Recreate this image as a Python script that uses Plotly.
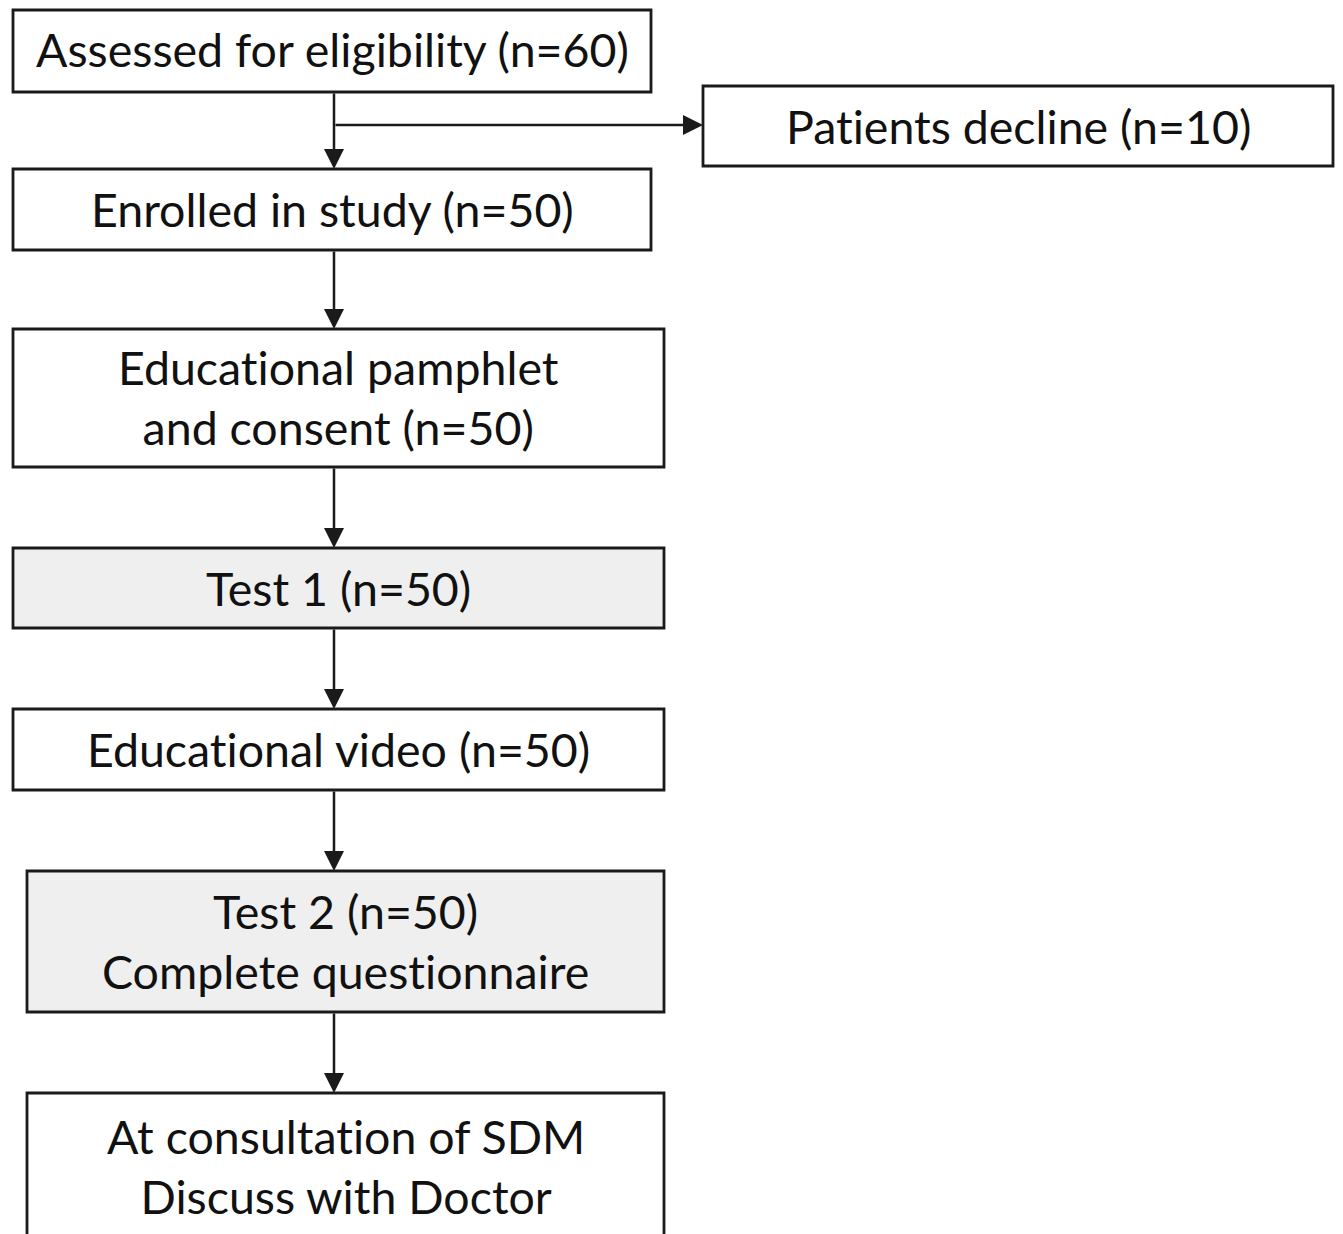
import plotly.graph_objects as go

# ---- data ----
stages = [
    "Assessed for eligibility",
    "Patients decline",
    "Enrolled in study",
    "Educational pamphlet<br>and consent",
    "Test 1",
    "Educational video",
    "Test 2",
    "At consultation of SDM<br>Discuss with Doctor",
]
counts = [60, 10, 50, 50, 50, 50, 50, None]
extra_lines = [None, None, None, None, None, None, "Complete questionnaire", None]
shaded = [False, False, False, False, True, False, True, False]

# ---- layout (page pixel coordinates) ----
boxes = [
    (13, 651, 10, 92),
    (703, 1333, 86, 166),
    (13, 651, 169, 250),
    (13, 664, 329, 467),
    (13, 664, 548, 628),
    (13, 664, 709, 790),
    (27, 664, 871, 1012),
    (27, 664, 1093, 1260),
]
text_y = [49, 126, 209, 397, 588, 749, 941, 1166]
W, H = 1343, 1234
OFF = 8  # page body margin
AX = 334

def label(i):
    s = stages[i]
    if counts[i] is not None:
        s = s + " (n=%d)" % counts[i]
    if extra_lines[i]:
        s = s + "<br>" + extra_lines[i]
    # avoid the "ti" ligature of the font
    return s.replace("ti", "t\u200ci")

fig = go.Figure()
fig.add_trace(go.Scatter(x=[OFF, W], y=[OFF, H], mode="markers", marker=dict(opacity=0),
                         hoverinfo="skip", showlegend=False))

shapes = []
annotations = []
for i, (x0, x1, y0, y1) in enumerate(boxes):
    shapes.append(dict(type="rect", x0=x0, x1=x1, y0=y0, y1=y1, xref="x", yref="y",
                       line=dict(color="#1a1a1a", width=2.8),
                       fillcolor="#efefef" if shaded[i] else "white", layer="below"))
    annotations.append(dict(x=(x0 + x1) / 2, y=text_y[i], xref="x", yref="y", text=label(i),
                            showarrow=False, font=dict(family="Lato", size=46.5, color="#111111"),
                            align="center"))

# vertical arrows between main boxes
main = [0, 2, 3, 4, 5, 6, 7]
for a, b in zip(main[:-1], main[1:]):
    annotations.append(dict(x=AX, y=boxes[b][2], ax=AX, ay=boxes[a][3], xref="x", yref="y",
                            axref="x", ayref="y", text="", showarrow=True, arrowhead=2,
                            arrowsize=1.6, arrowwidth=2.5, arrowcolor="#1a1a1a", standoff=0))

# branch arrow to decline box
branch_y = 125
annotations.append(dict(x=boxes[1][0], y=branch_y, ax=AX, ay=branch_y, xref="x", yref="y",
                        axref="x", ayref="y", text="", showarrow=True, arrowhead=2,
                        arrowsize=1.6, arrowwidth=2.5, arrowcolor="#1a1a1a", standoff=0))

fig.update_layout(
    width=W - OFF, height=H - OFF, margin=dict(l=0, r=0, t=0, b=0),
    paper_bgcolor="white", plot_bgcolor="white",
    xaxis=dict(range=[OFF, W], visible=False, fixedrange=True),
    yaxis=dict(range=[H, OFF], visible=False, fixedrange=True),
    shapes=shapes, annotations=annotations, showlegend=False,
)
fig.write_html("out.html")
